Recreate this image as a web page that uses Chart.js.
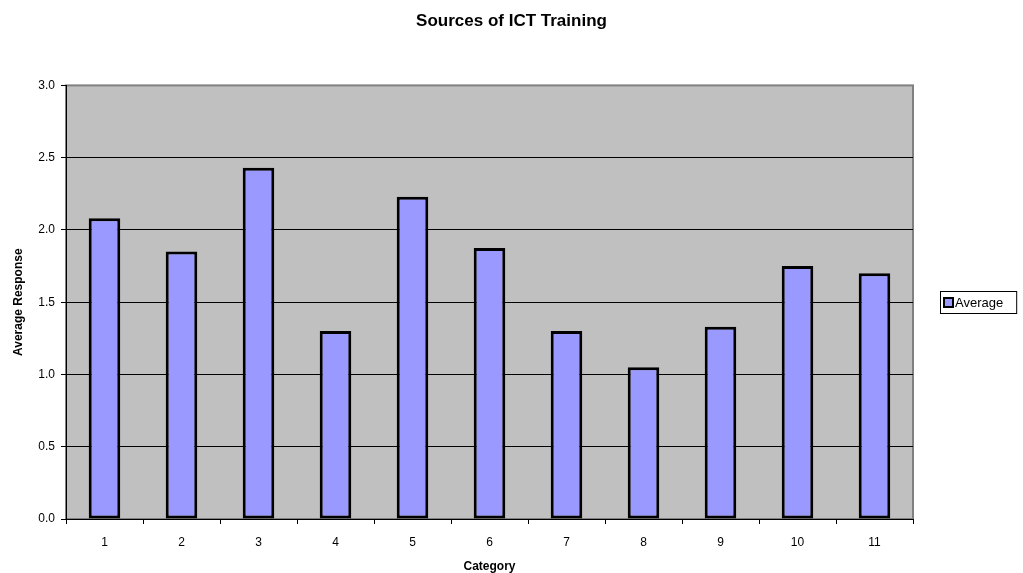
<!DOCTYPE html>
<html>
<head>
<meta charset="utf-8">
<script src="https://cdn.jsdelivr.net/npm/chart.js@4"></script>
<style>
  html, body { margin: 0; padding: 0; background: #fff; }
  #wrap { width: 1023px; height: 573px; }
</style>
</head>
<body>
<div id="wrap"><canvas id="ictChart" width="1023" height="573"></canvas></div>
<script>
// data
const categories = ['1', '2', '3', '4', '5', '6', '7', '8', '9', '10', '11'];
const averages = [2.08, 1.85, 2.43, 1.30, 2.23, 1.875, 1.30, 1.05, 1.33, 1.75, 1.70];
const seriesName = 'Average';
const yTicks = [0, 0.5, 1, 1.5, 2, 2.5, 3];

const FONT = '"Liberation Sans", Arial, sans-serif';
const BAR_FILL = '#9999FF';

// grey plot area + grey frame like the old excel look
const plotBg = {
  id: 'plotBg',
  beforeDraw(chart) {
    const { ctx, chartArea: a } = chart;
    ctx.save();
    ctx.fillStyle = '#C0C0C0';
    ctx.fillRect(a.left, a.top, a.right - a.left, a.bottom - a.top);
    ctx.strokeStyle = '#808080';
    ctx.lineWidth = 2;
    ctx.strokeRect(a.left, a.top, a.right - a.left, a.bottom - a.top);
    ctx.restore();
  }
};

// boxed legend on the right, drawn by hand
const boxLegend = {
  id: 'boxLegend',
  afterDraw(chart) {
    const { ctx, chartArea: a } = chart;
    const label = chart.data.datasets[0].label;
    ctx.save();
    ctx.font = '13px ' + FONT;
    const tw = ctx.measureText(label).width;
    const x = a.right + 27;
    const cy = Math.round((a.top + a.bottom) / 2);
    const w = tw + 28;
    const h = 22;
    ctx.fillStyle = '#fff';
    ctx.fillRect(x, cy - h / 2, w, h);
    ctx.strokeStyle = '#000';
    ctx.lineWidth = 1;
    ctx.strokeRect(x + 0.5, cy - h / 2 + 0.5, w, h);
    ctx.fillStyle = BAR_FILL;
    ctx.fillRect(x + 4, cy - 4, 9, 9);
    ctx.lineWidth = 2;
    ctx.strokeRect(x + 4, cy - 4, 9, 9);
    ctx.fillStyle = '#000';
    ctx.textBaseline = 'middle';
    ctx.fillText(label, x + 15, cy + 1);
    ctx.restore();
  }
};

new Chart(document.getElementById('ictChart'), {
  type: 'bar',
  data: {
    labels: categories,
    datasets: [{
      label: seriesName,
      data: averages,
      backgroundColor: BAR_FILL,
      borderColor: '#000',
      borderWidth: 3,
      borderSkipped: false,
      barPercentage: 0.41,
      categoryPercentage: 1.0
    }]
  },
  options: {
    responsive: false,
    animation: false,
    layout: { padding: 0 },
    plugins: {
      legend: { display: false },
      tooltip: { enabled: false },
      title: {
        display: true,
        text: 'Sources of ICT Training',
        color: '#000',
        font: { family: FONT, size: 17, weight: 'bold' },
        padding: { top: 11, bottom: 54 }
      }
    },
    scales: {
      x: {
        grid: {
          offset: true,
          drawOnChartArea: false,
          drawTicks: true,
          tickLength: 5,
          tickColor: '#000'
        },
        border: { color: '#000', width: 1 },
        ticks: { color: '#000', font: { family: FONT, size: 12 }, padding: 11 },
        title: {
          display: true,
          text: 'Category',
          color: '#000',
          font: { family: FONT, size: 12, weight: 'bold' },
          padding: { top: 6, bottom: -1 }
        },
        afterFit(scale) { scale.height = 54; }
      },
      y: {
        min: 0,
        max: 3,
        afterBuildTicks(scale) { scale.ticks = yTicks.map(v => ({ value: v })); },
        grid: {
          color: ctx => (ctx.tick && ctx.tick.value === 3 ? 'rgba(0,0,0,0)' : '#000'),
          lineWidth: 1,
          drawTicks: true,
          tickLength: 5,
          tickColor: '#000'
        },
        border: { color: '#000', width: 1 },
        ticks: {
          color: '#000',
          font: { family: FONT, size: 12 },
          padding: 6,
          callback: v => Number(v).toFixed(1)
        },
        title: {
          display: true,
          text: 'Average Response',
          color: '#000',
          font: { family: FONT, size: 12, weight: 'bold' },
          padding: { top: 11, bottom: 4 }
        },
        afterFit(scale) { scale.width = 66; }
      },
      // empty axis that just reserves room for the legend on the right
      spacer: {
        position: 'right',
        display: true,
        grid: { display: false },
        border: { display: false },
        ticks: { display: false },
        afterFit(scale) { scale.width = 110; }
      }
    }
  },
  plugins: [plotBg, boxLegend]
});
</script>
</body>
</html>
